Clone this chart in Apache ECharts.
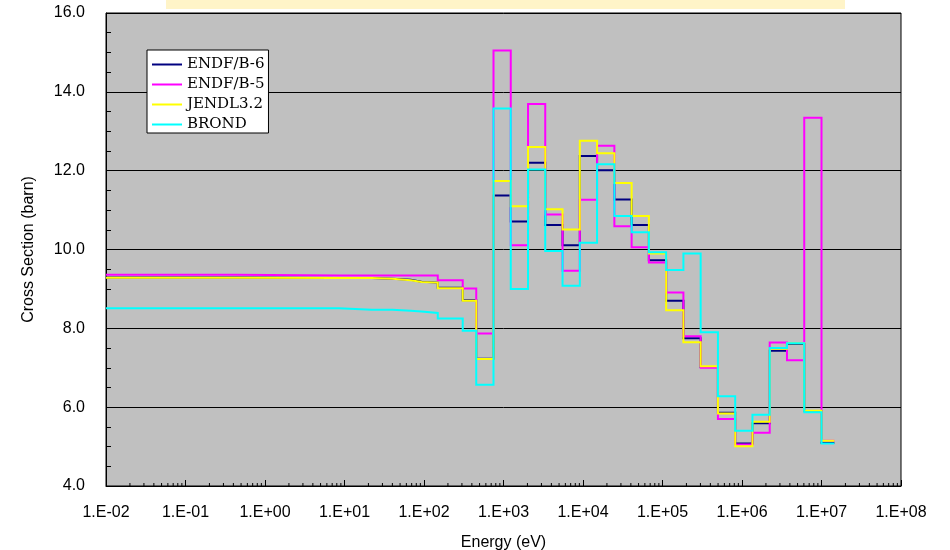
<!DOCTYPE html>
<html>
<head>
<meta charset="utf-8">
<script src="https://cdn.jsdelivr.net/npm/echarts@6/dist/echarts.min.js"></script>
<style>
  html, body { margin: 0; padding: 0; background: #ffffff; }
  #chart { width: 950px; height: 550px; }
</style>
</head>
<body>
<div id="chart"></div>
<script>
// Group edges in eV: lower edge of each group, the last entry closes the top group
const groupEdges = [0.01, 0.42, 8.5, 22, 40, 68, 93, 149, 307, 454, 748.5, 1234, 2035, 3350, 5530,
  9120, 15030, 24800, 40900, 67400, 111100, 183200, 302000, 498000, 821000, 1353000, 2231000,
  3679000, 6065000, 10000000, 14500000];

// Group-averaged cross sections (barn), one value per group
const endfb6 = [9.29, 9.28, 9.28, 9.26, 9.23, 9.18, 9.16, 9.03, 8.71, 7.23, 11.37, 10.71, 12.20, 10.62,
  10.11, 12.37, 12.01, 11.27, 10.62, 9.73, 8.70, 7.75, 7.02, 5.86, 5.08, 5.59, 7.43, 7.60, 5.90, 5.10];
const endfb5 = [9.36, 9.34, 9.34, 9.34, 9.34, 9.34, 9.34, 9.22, 9.01, 7.87, 15.05, 10.11, 13.69, 10.89,
  9.46, 11.26, 12.63, 10.59, 10.06, 9.67, 8.91, 7.80, 7.00, 5.70, 5.05, 5.35, 7.64, 7.19, 13.34, 5.15];
const jendl32 = [9.285, 9.28, 9.28, 9.26, 9.22, 9.175, 9.16, 9.02, 8.70, 7.22, 11.74, 11.10, 12.60, 11.02,
  10.51, 12.76, 12.44, 11.69, 10.85, 9.90, 8.46, 7.65, 7.04, 5.84, 5.01, 5.63, 7.48, 7.62, 5.91, 5.15];
const brond = [8.51, 8.51, 8.47, 8.47, 8.447, 8.43, 8.39, 8.25, 7.94, 6.57, 13.58, 9.00, 12.03, 9.96,
  9.08, 10.17, 12.16, 10.85, 10.44, 9.93, 9.48, 9.90, 7.90, 6.28, 5.40, 5.81, 7.50, 7.62, 5.87, 5.08];

const seriesNames = ['ENDF/B-6', 'ENDF/B-5', 'JENDL3.2', 'BROND'];
const seriesColors = ['#000080', '#FF00FF', '#FFFF00', '#00FFFF'];
const seriesValues = [endfb6, endfb5, jendl32, brond];

// Log-axis minor tick positions: 2..9 within every decade
const tickDecades = [0.01, 0.1, 1, 10, 100, 1e3, 1e4, 1e5, 1e6, 1e7];
const tickMultipliers = [2, 3, 4, 5, 6, 7, 8, 9];

const AXIS_FONT = '"Liberation Sans", Arial, sans-serif';

function toStepData(values) {
  const pts = values.map((v, i) => [groupEdges[i], v]);
  pts.push([groupEdges[groupEdges.length - 1], values[values.length - 1]]);
  return pts;
}

function expLabel(v) {
  const e = Math.round(Math.log10(v));
  return '1.E' + (e < 0 ? '-' : '+') + String(Math.abs(e)).padStart(2, '0');
}

const minorTickData = [];
tickDecades.forEach(d => tickMultipliers.forEach(m => minorTickData.push([d * m, 4])));

const lineSeries = seriesNames.map((name, k) => ({
  name: name,
  type: 'line',
  step: 'end',
  data: toStepData(seriesValues[k]),
  symbol: 'none',
  showSymbol: false,
  color: seriesColors[k],
  lineStyle: { color: seriesColors[k], width: 2, join: 'miter', cap: 'butt' },
  z: 3 + k,
  animation: false
}));

const chart = echarts.init(document.getElementById('chart'), null, { renderer: 'canvas' });
chart.setOption({
  animation: false,
  backgroundColor: '#ffffff',
  graphic: [{
    type: 'rect',
    left: 166, top: 0,
    shape: { width: 679, height: 9 },
    style: { fill: '#FFF4C8' },
    silent: true
  }],
  grid: {
    left: 106, right: 49, top: 13, bottom: 64,
    outerBoundsMode: 'none',
    containLabel: false,
    show: true,
    backgroundColor: '#C0C0C0',
    borderColor: '#000000',
    borderWidth: 1
  },
  legend: {
    data: seriesNames,
    orient: 'vertical',
    left: 147, top: 50,
    backgroundColor: '#ffffff',
    borderColor: '#000000',
    borderWidth: 1,
    borderRadius: 0,
    padding: [7, 4, 1, 5],
    icon: 'rect',
    itemWidth: 30,
    itemHeight: 2,
    itemGap: 5,
    textStyle: { fontFamily: '"DejaVu Serif", serif', fontSize: 15, lineHeight: 14, color: '#000000' }
  },
  xAxis: {
    type: 'log',
    logBase: 10,
    min: 0.01,
    max: 1e8,
    interval: 1,
    name: 'Energy (eV)',
    nameLocation: 'middle',
    nameGap: 49,
    nameTextStyle: { fontFamily: AXIS_FONT, fontSize: 16, color: '#000000' },
    axisLine: { show: true, lineStyle: { color: '#000000', width: 1 } },
    axisTick: { show: true, inside: true, length: 6, lineStyle: { color: '#000000' } },
    minorTick: { show: false },
    axisLabel: {
      formatter: expLabel,
      fontFamily: AXIS_FONT, fontSize: 16, color: '#000000', margin: 19,
      showMinLabel: true, showMaxLabel: true
    },
    splitLine: { show: false }
  },
  yAxis: {
    type: 'value',
    min: 4,
    max: 16,
    interval: 2,
    name: 'Cross Section (barn)',
    nameLocation: 'middle',
    nameGap: 69,
    nameTextStyle: { fontFamily: AXIS_FONT, fontSize: 16, color: '#000000' },
    axisLine: { show: true, lineStyle: { color: '#000000', width: 1 } },
    axisTick: { show: true, inside: true, length: 5, lineStyle: { color: '#000000' } },
    minorTick: { show: true, splitNumber: 4, length: 5, lineStyle: { color: '#000000', width: 1 } },
    axisLabel: {
      formatter: v => v.toFixed(1),
      fontFamily: AXIS_FONT, fontSize: 16, color: '#000000', margin: 21
    },
    splitLine: { show: true, lineStyle: { color: '#000000', width: 1 } }
  },
  series: lineSeries.concat([{
    name: 'minorTicks',
    type: 'custom',
    silent: true,
    animation: false,
    z: 10,
    data: minorTickData,
    encode: { x: 0, y: 1 },
    renderItem: function (params, api) {
      const p = api.coord([api.value(0), api.value(1)]);
      return {
        type: 'line',
        shape: { x1: p[0], y1: p[1], x2: p[0], y2: p[1] - 3 },
        style: { stroke: '#000000', lineWidth: 1 }
      };
    }
  }])
});
</script>
</body>
</html>
